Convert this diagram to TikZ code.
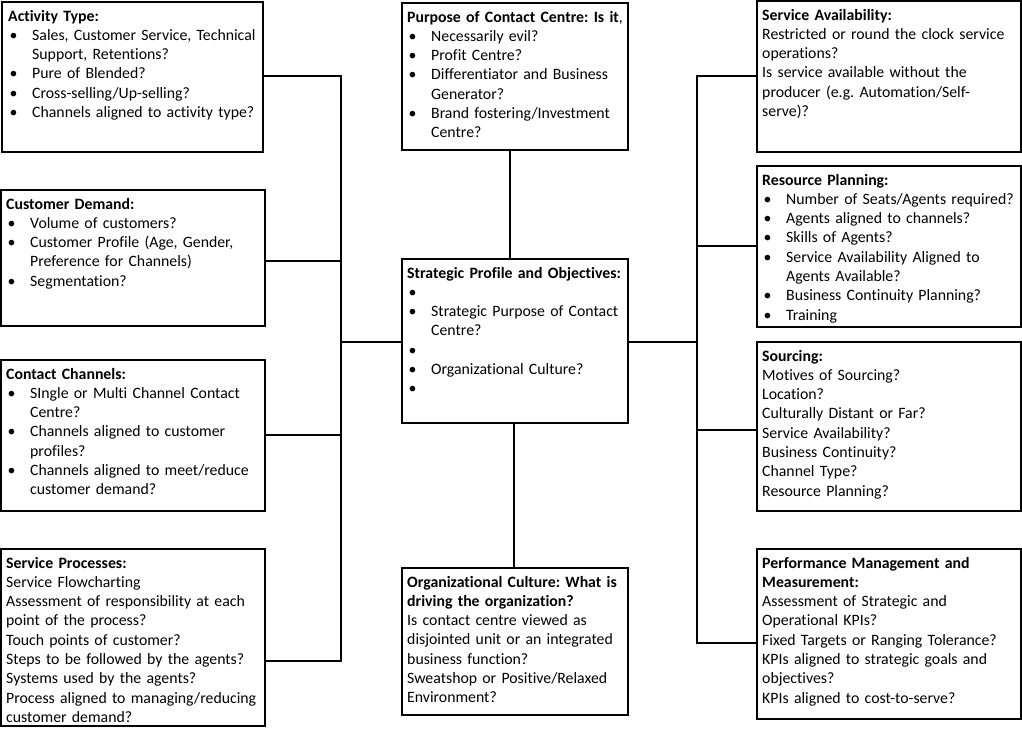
\documentclass[tikz,border=0pt]{standalone}
\usepackage{fontspec}
\setmainfont{Carlito}[Ligatures=NoCommon]
\frenchspacing
\newcommand\bul{\makebox[24pt][l]{\hspace*{1.5pt}\textbullet}}
\newcommand\ind{\hspace*{24pt}}
\begin{document}
\begin{tikzpicture}[x=1pt,y=-1pt,
  box/.style={draw=black, line width=1.2pt, inner sep=0pt, outer sep=0pt, anchor=north west},
  txt/.style={anchor=base west, align=left, text width=330pt, inner sep=0pt, font=\fontsize{15.8}{19.3}\selectfont\frenchspacing},
  conn/.style={draw=black, line width=1.1pt}]
\useasboundingbox (0,0) rectangle (1022,728);
\fill[white] (0,0) rectangle (1022,728);
% ---- left column boxes
\node[box, minimum width=261pt, minimum height=150pt] (act) at (2,2) {};
\node[txt] (actT) at (8,21) {\textbf{Activity Type:}\\
\bul Sales, Customer Service, Technical\\
\ind Support, Retentions?\\
\bul Pure of Blended?\\
\bul Cross-selling/Up-selling?\\
\bul Channels aligned to activity type?};

\node[box, minimum width=264pt, minimum height=136pt] (cd) at (1,190) {};
\node[txt] (cdT) at (6,209) {\textbf{Customer Demand:}\\
\bul Volume of customers?\\
\bul Customer Profile (Age, Gender,\\
\ind Preference for Channels)\\
\bul Segmentation?};

\node[box, minimum width=264pt, minimum height=151pt] (cc) at (1,360) {};
\node[txt] (ccT) at (6,379) {\textbf{Contact Channels:}\\
\bul SIngle or Multi Channel Contact\\
\ind Centre?\\
\bul Channels aligned to customer\\
\ind profiles?\\
\bul Channels aligned to meet/reduce\\
\ind customer demand?};

\node[box, minimum width=264pt, minimum height=177pt] (sp) at (1,549) {};
\node[txt] (spT) at (6,568) {\textbf{Service Processes:}\\
Service Flowcharting\\
Assessment of responsibility at each\\
point of the process?\\
Touch points of customer?\\
Steps to be followed by the agents?\\
Systems used by the agents?\\
Process aligned to managing/reducing\\
customer demand?};

% ---- centre column boxes
\node[box, minimum width=226pt, minimum height=147pt] (pur) at (402,3) {};
\node[txt] (purT) at (407,22) {\textbf{Purpose of Contact Centre: Is it},\\
\bul Necessarily evil?\\
\bul Profit Centre?\\
\bul Differentiator and Business\\
\ind Generator?\\
\bul Brand fostering/Investment\\
\ind Centre?};

\node[box, minimum width=226pt, minimum height=164pt] (spo) at (402,259) {};
\node[txt] (spoT) at (407,278) {\textbf{Strategic Profile and Objectives:}\\
\bul\\
\bul Strategic Purpose of Contact\\
\ind Centre?\\
\bul\\
\bul Organizational Culture?\\
\bul};

\node[box, minimum width=226pt, minimum height=147pt] (org) at (402,568) {};
\node[txt] (orgT) at (407,587) {\textbf{Organizational Culture: What is}\\
\textbf{driving the organization?}\\
Is contact centre viewed as\\
disjointed unit or an integrated\\
business function?\\
Sweatshop or Positive/Relaxed\\
Environment?};

% ---- right column boxes
\node[box, minimum width=264pt, minimum height=151pt] (sa) at (757,1) {};
\node[txt] (saT) at (762,20) {\textbf{Service Availability:}\\
Restricted or round the clock service\\
operations?\\
Is service available without the\\
producer (e.g. Automation/Self-\\
serve)?};

\node[box, minimum width=264pt, minimum height=161pt] (rp) at (757,166) {};
\node[txt] (rpT) at (762,185) {\textbf{Resource Planning:}\\
\bul Number of Seats/Agents required?\\
\bul Agents aligned to channels?\\
\bul Skills of Agents?\\
\bul Service Availability Aligned to\\
\ind Agents Available?\\
\bul Business Continuity Planning?\\
\bul Training};

\node[box, minimum width=264pt, minimum height=169pt] (so) at (757,342) {};
\node[txt] (soT) at (762,361) {\textbf{Sourcing:}\\
Motives of Sourcing?\\
Location?\\
Culturally Distant or Far?\\
Service Availability?\\
Business Continuity?\\
Channel Type?\\
Resource Planning?};

\node[box, minimum width=264pt, minimum height=170pt] (pm) at (757,549) {};
\node[txt] (pmT) at (762,568) {\textbf{Performance Management and}\\
\textbf{Measurement:}\\
Assessment of Strategic and\\
Operational KPIs?\\
Fixed Targets or Ranging Tolerance?\\
KPIs aligned to strategic goals and\\
objectives?\\
KPIs aligned to cost-to-serve?};

% ---- bus coordinates
\coordinate (L1) at (341,76);
\coordinate (L2) at (341,261);
\coordinate (L3) at (341,435);
\coordinate (L4) at (341,661);
\coordinate (LM) at (341,342);
\coordinate (R1) at (697,76);
\coordinate (R2) at (697,246);
\coordinate (R3) at (697,430);
\coordinate (R4) at (697,643);
\coordinate (RM) at (697,342);
\coordinate (C1) at (510,0);
\coordinate (C2) at (514,0);

% ---- connectors
\draw[conn] (act.east |- L1) -- (L1) -- (L4) -- (sp.east |- L4);
\draw[conn] (cd.east |- L2) -- (L2);
\draw[conn] (cc.east |- L3) -- (L3);
\draw[conn] (spo.west |- LM) -- (LM);
\draw[conn] (sa.west |- R1) -- (R1) -- (R4) -- (pm.west |- R4);
\draw[conn] (rp.west |- R2) -- (R2);
\draw[conn] (so.west |- R3) -- (R3);
\draw[conn] (spo.east |- RM) -- (RM);
\draw[conn] (pur.south -| C1) -- (spo.north -| C1);
\draw[conn] (spo.south -| C2) -- (org.north -| C2);
\end{tikzpicture}
\end{document}
